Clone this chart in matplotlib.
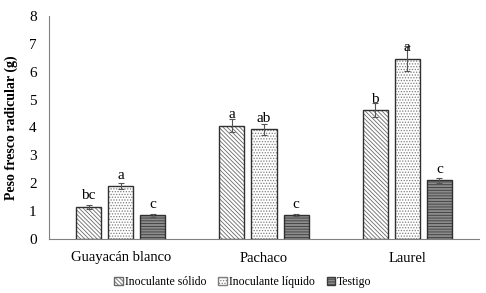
import numpy as np
import matplotlib.pyplot as plt
from matplotlib.patches import Patch

plt.rcParams.update({
    "font.family": ["Liberation Serif", "DejaVu Serif"],
    "hatch.linewidth": 0.6,
})

especies = ["Guayacán blanco", "Pachaco", "Laurel"]
tratamientos = ["Inoculante sólido", "Inoculante líquido", "Testigo"]
solido = [1.15, 4.07, 4.62]
liquido = [1.90, 3.93, 6.47]
testigo = [0.85, 0.85, 2.10]
err_solido = [0.07, 0.23, 0.25]
err_liquido = [0.10, 0.20, 0.45]
err_testigo = [0.05, 0.03, 0.10]
letras_solido = ["bc", "a", "b"]
letras_liquido = ["a", "ab", "a"]
letras_testigo = ["c", "c", "c"]

series = [
    (solido, err_solido, letras_solido, "white", "#6a6a6a", "\\" * 8),
    (liquido, err_liquido, letras_liquido, "white", "#7e7e7e", "......"),
    (testigo, err_testigo, letras_testigo, "#8c8c8c", "#3a3a3a", "------"),
]

fig = plt.figure(figsize=(4.86, 2.93), dpi=100)
ax = fig.add_axes([49 / 486, 1 - 239 / 293, 430 / 486, 223 / 293])

x = np.arange(len(especies))
w = 0.175
step = 0.224
for i, (vals, errs, letras, fc, hc, hatch) in enumerate(series):
    pos = x + (i - 1) * step
    ax.bar(pos, vals, w, color=fc, edgecolor=hc, hatch=hatch, linewidth=0, zorder=2)
    ax.bar(pos, vals, w, fill=False, edgecolor="#303030", linewidth=1.0, zorder=3)
    ax.errorbar(pos, vals, yerr=errs, fmt="none", ecolor="#555555",
                elinewidth=0.8, capsize=2.5, capthick=0.8, zorder=4)
    for p, v, l in zip(pos, vals, letras):
        ax.text(p, v + 0.27, l, ha="center", va="baseline", fontsize=11, zorder=5)

ax.set_xlim(-0.5, 2.5)
ax.set_ylim(0, 8)
ax.set_yticks(range(0, 9))
ax.set_xticks(x)
ax.set_xticklabels(especies, fontsize=10.5)
ax.tick_params(axis="y", labelsize=11, length=0, pad=9)
ax.tick_params(axis="x", length=0, pad=9)
for s in ["top", "right"]:
    ax.spines[s].set_visible(False)
ax.spines["left"].set_color("#808080")
ax.spines["bottom"].set_color("#808080")
ax.set_ylabel("Peso fresco radicular (g)", fontsize=10, fontweight="bold", labelpad=8)

handles = [Patch(facecolor=s[3], edgecolor=s[4], hatch=s[5], label=t)
           for s, t in zip(series, tratamientos)]
fig.legend(handles=handles, loc="center", bbox_to_anchor=(0.5, 1 - 282 / 293),
           ncol=3, frameon=False, fontsize=8.5, handlelength=0.7, handleheight=0.7,
           handletextpad=0.2, columnspacing=1.0)

fig.savefig("out.png", dpi=100)
